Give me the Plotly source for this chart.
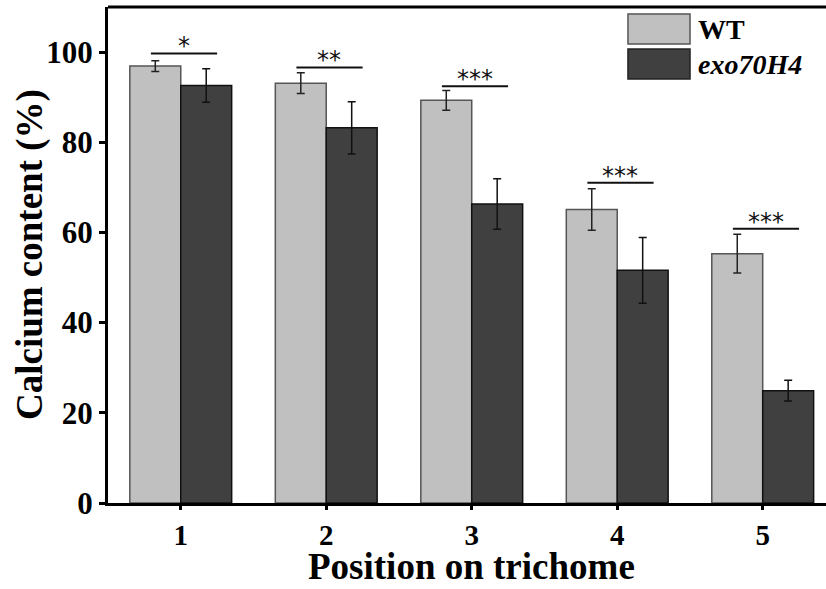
import plotly.graph_objects as go

positions = [1, 2, 3, 4, 5]
tick_labels = ["1", "2", "3", "4", "5"]
wt_mean = [96.9, 93.1, 89.3, 65.1, 55.3]
wt_err = [1.2, 2.3, 2.2, 4.6, 4.3]
mut_mean = [92.6, 83.2, 66.3, 51.6, 24.9]
mut_err = [3.7, 5.8, 5.6, 7.3, 2.3]
sig_labels = ["*", "**", "***", "***", "***"]
sig_y = [99.7, 96.6, 92.4, 71.0, 60.8]

FONT = "Liberation Serif, Times New Roman, serif"
WT_COLOR = "#c0c0c0"
MUT_COLOR = "#404040"

fig = go.Figure()
fig.add_trace(go.Bar(
    x=positions, y=wt_mean, name="WT", offset=-0.35, width=0.35,
    marker=dict(color=WT_COLOR, line=dict(color="#555555", width=1.5)),
    error_y=dict(type="data", array=wt_err, color="#222222", thickness=1.5, width=4),
))
fig.add_trace(go.Bar(
    x=positions, y=mut_mean, name="exo70H4", offset=0, width=0.35,
    marker=dict(color=MUT_COLOR, line=dict(color="#111111", width=1.5)),
    error_y=dict(type="data", array=mut_err, color="#111111", thickness=1.5, width=4),
))

shapes = []
annotations = []
for p, lab, yv in zip(positions, sig_labels, sig_y):
    shapes.append(dict(type="line", xref="x", yref="y", x0=p - 0.205, x1=p + 0.25,
                       y0=yv, y1=yv, line=dict(color="#111111", width=2)))
    annotations.append(dict(x=p + 0.02, y=yv, xref="x", yref="y", text=lab,
                            showarrow=False, yanchor="bottom", yshift=-9,
                            font=dict(family="DejaVu Sans, sans-serif", size=24, color="#111111")))

# top border
shapes.append(dict(type="line", xref="paper", yref="paper", x0=0, x1=1, y0=1, y1=1,
                   line=dict(color="black", width=3)))

# legend
shapes.append(dict(type="rect", xref="paper", yref="paper", x0=0.7242, x1=0.8106,
                   y0=0.9254, y1=0.9859, fillcolor=WT_COLOR, line=dict(color="#555555", width=1.5)))
shapes.append(dict(type="rect", xref="paper", yref="paper", x0=0.7242, x1=0.8106,
                   y0=0.8548, y1=0.9153, fillcolor=MUT_COLOR, line=dict(color="#222222", width=1.5)))
annotations.append(dict(x=0.819, y=0.9556, xref="paper", yref="paper", text="<b>WT</b>",
                        showarrow=False, xanchor="left", yanchor="middle",
                        font=dict(family=FONT, size=28, color="black")))
annotations.append(dict(x=0.819, y=0.885, xref="paper", yref="paper", text="<b><i>exo70H4</i></b>",
                        showarrow=False, xanchor="left", yanchor="middle",
                        font=dict(family=FONT, size=28, color="black")))

# axis titles
annotations.append(dict(x=3, y=-0.1741, xref="x", yref="paper", text="<b>Position on trichome</b>",
                        showarrow=False, xanchor="center", yanchor="bottom",
                        font=dict(family=FONT, size=37, color="black")))
annotations.append(dict(x=-0.1086, y=0.5, xref="paper", yref="paper", text="<b>Calcium content (%)</b>",
                        showarrow=False, xanchor="center", yanchor="middle", textangle=-90,
                        font=dict(family=FONT, size=37, color="black")))

fig.update_layout(
    width=826, height=589, autosize=False,
    margin=dict(l=108, r=0, t=7, b=86),
    plot_bgcolor="white", paper_bgcolor="white",
    showlegend=False,
    shapes=shapes, annotations=annotations,
    xaxis=dict(range=[0.5, 5.435], tickmode="array", tickvals=positions, ticktext=tick_labels,
               showline=True, linecolor="black", linewidth=3, ticks="outside", ticklen=4,
               tickwidth=2.5, tickcolor="black", showgrid=False, zeroline=False,
               tickfont=dict(family=FONT, size=29, color="black", weight="bold")),
    yaxis=dict(range=[0, 110], tickmode="array", tickvals=[0, 20, 40, 60, 80, 100],
               showline=True, linecolor="black", linewidth=3, ticks="outside", ticklen=6,
               tickwidth=2.5, tickcolor="black", showgrid=False, zeroline=False,
               tickfont=dict(family=FONT, size=31, color="black", weight="bold")),
)

fig.write_html("out.html", config={"displayModeBar": False},
               post_script="document.body.style.margin='0';document.body.style.overflow='hidden';")
